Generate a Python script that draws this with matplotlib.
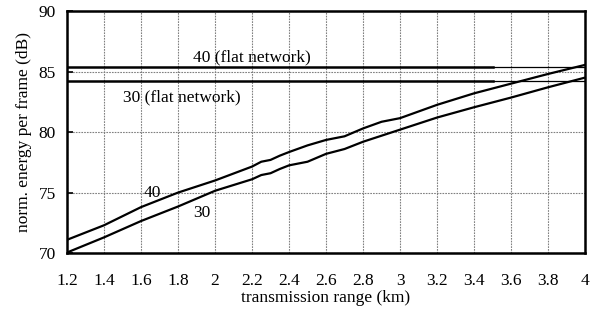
import matplotlib.pyplot as plt
import numpy as np

# transmission range (km) and normalised energy (dB)
x40 = [1.2, 1.4, 1.6, 1.8, 2.0, 2.2, 2.25, 2.3, 2.35, 2.4, 2.5, 2.6, 2.7, 2.8, 2.9, 3.0, 3.2, 3.4, 3.6, 3.8, 4.0]
y40 = [71.1, 72.3, 73.8, 75.0, 76.0, 77.15, 77.55, 77.7, 78.05, 78.35, 78.9, 79.35, 79.65, 80.3, 80.85, 81.15, 82.25, 83.2, 84.0, 84.8, 85.55]
x30 = [1.2, 1.4, 1.6, 1.8, 2.0, 2.2, 2.25, 2.3, 2.35, 2.4, 2.5, 2.6, 2.7, 2.8, 3.0, 3.2, 3.4, 3.6, 3.8, 4.0]
y30 = [70.05, 71.3, 72.65, 73.85, 75.15, 76.1, 76.45, 76.6, 76.95, 77.25, 77.55, 78.2, 78.6, 79.2, 80.2, 81.2, 82.05, 82.85, 83.7, 84.5]
flat40 = 85.4
flat30 = 84.25
flat_end = 3.5     # thick part of the flat lines ends here

xticks = np.round(np.arange(1.2, 4.01, 0.2), 1)
xlabels = ['1.2', '1.4', '1.6', '1.8', '2', '2.2', '2.4', '2.6', '2.8', '3', '3.2', '3.4', '3.6', '3.8', '4']
yticks = [70, 75, 80, 85, 90]

plt.rcParams['font.family'] = ['Liberation Serif', 'DejaVu Serif']
plt.rcParams['font.size'] = 12.5

fig = plt.figure(figsize=(5.94, 3.2), dpi=100)
ax = fig.add_axes([0.1128, 0.209, 0.8722, 0.7566])

ax.plot(x40, y40, color='black', lw=1.6, solid_capstyle='butt')
ax.plot(x30, y30, color='black', lw=1.6, solid_capstyle='butt')

# flat network references
ax.plot([1.2, flat_end], [flat40, flat40], color='black', lw=1.8)
ax.plot([flat_end, 4.0], [flat40, flat40], color='black', lw=0.9)
ax.plot([1.2, flat_end], [flat30, flat30], color='black', lw=1.8)
ax.plot([flat_end, 4.0], [flat30, flat30], color='black', lw=0.9)

ax.text(2.2, 85.5, '40 (flat network)', ha='center', va='bottom')
ax.text(1.82, 82.9, '30 (flat network)', ha='center', va='center')
ax.text(1.66, 75.0, '40', ha='center', va='center')
ax.text(1.93, 73.3, '30', ha='center', va='center')

ax.set_xlim(1.2, 4.0)
ax.set_ylim(70, 90)
ax.set_xticks(xticks)
ax.set_xticklabels(xlabels)
ax.set_yticks(yticks)

ax.grid(True, color='#808080', linestyle=(0, (1.5, 1)), linewidth=0.8)
ax.set_axisbelow(True)

for s in ax.spines.values():
    s.set_linewidth(1.8)

ax.tick_params(axis='x', length=0, pad=14)
ax.tick_params(axis='y', direction='in', length=4, width=1.2, pad=8)

ax.set_xlabel('transmission range (km)', labelpad=1)
ax.set_ylabel('norm. energy per frame (dB)', labelpad=5)

fig.savefig('out.png', dpi=100)
